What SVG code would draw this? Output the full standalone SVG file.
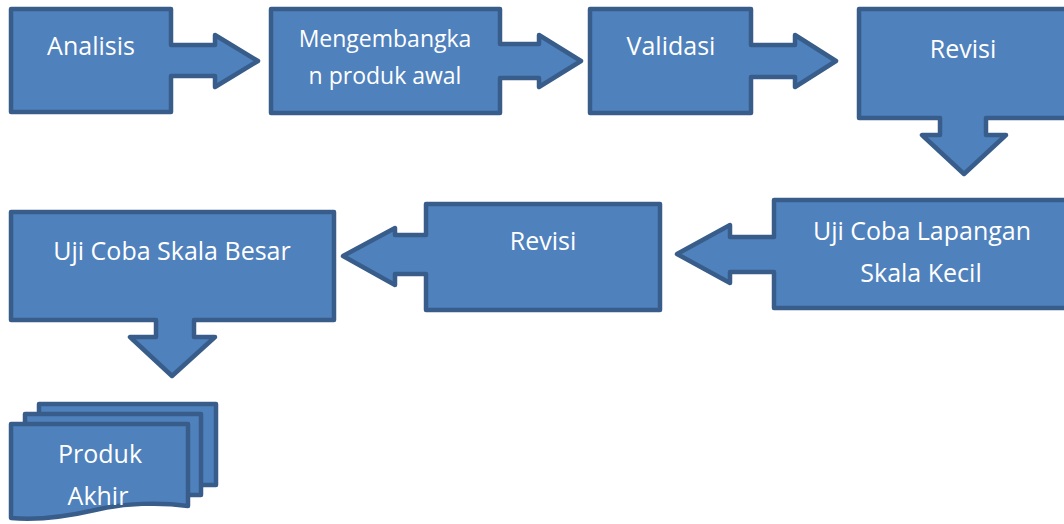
<svg xmlns="http://www.w3.org/2000/svg" width="1064" height="524" viewBox="0 0 1064 524">
<style>
.s{fill:#4F81BD;stroke:#385D8A;stroke-width:4.5;stroke-linejoin:round}
.t{font-family:"Open Sans","Liberation Sans",sans-serif;font-size:25px;fill:#FFFFFF;text-anchor:middle}
.sm{font-size:23px}
</style>
<rect width="1064" height="524" fill="#FFFFFF"/>
<g id="connectors"></g>
<g id="analisis">
<path class="s" d="M11,9 H171 V45 H215 V35 L258,61 L215,87 V76 H171 V112 H11 Z"/>
<text class="t" x="91" y="55">Analisis</text>
</g>
<g id="mengembangkan">
<path class="s" d="M271,9 H500 V44 H539 V35 L581,61 L539,87 V78 H500 V113 H271 Z"/>
<text class="t sm" x="385" y="47">Mengembangka</text>
<text class="t sm" x="385" y="84">n produk awal</text>
</g>
<g id="validasi">
<path class="s" d="M590,9 H751 V45 H795 V35 L836,61 L795,87 V77 H751 V113 H590 Z"/>
<text class="t" x="671" y="55">Validasi</text>
</g>
<g id="revisi1">
<path class="s" d="M859,9 H1070 V118 H986 V135 H1006 L964,174 L922,135 H940 V118 H859 Z"/>
<text class="t" x="963" y="58">Revisi</text>
</g>
<g id="ujicoba-kecil">
<path class="s" d="M774,200 H1070 V308 H774 V272 H730 V283 L677,254 L730,225 V237 H774 Z"/>
<text class="t" x="922" y="240">Uji Coba Lapangan</text>
<text class="t" x="921" y="282">Skala Kecil</text>
</g>
<g id="revisi2">
<path class="s" d="M426,204 H660 V310 H426 V274 H395 V285 L343,256 L395,228 V235 H426 Z"/>
<text class="t" x="543" y="250">Revisi</text>
</g>
<g id="ujicoba-besar">
<path class="s" d="M11,212 H334 V320 H194 V337 H215 L172,376 L130,337 H156 V320 H11 Z"/>
<text class="t" x="172" y="260">Uji Coba Skala Besar</text>
</g>
<g id="produk-akhir">
<rect class="s" x="39" y="404" width="177" height="81"/>
<rect class="s" x="25" y="414" width="176" height="81"/>
<path class="s" d="M11,424 H188 V506 C160,502 125,503 95,510 C65,517 35,520 11,518 Z"/>
<text class="t" x="100" y="463">Produk</text>
<text class="t" x="98" y="505">Akhir</text>
</g>
</svg>
